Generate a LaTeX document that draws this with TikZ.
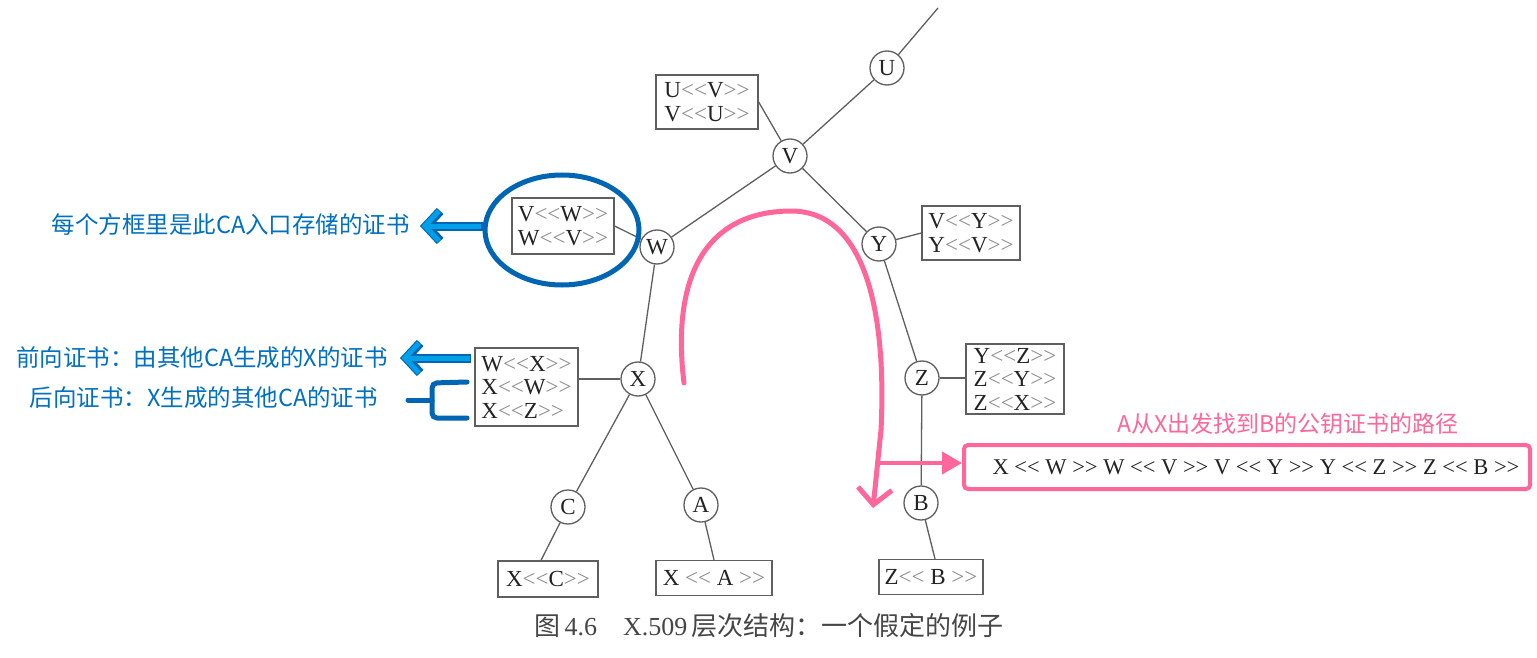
\documentclass[tikz,border=0pt]{standalone}
\usepackage{fontspec}
\setmainfont{Liberation Serif}[Ligatures=TeXOff]
\newfontfamily\cjk{Noto Sans CJK SC}[Ligatures=TeXOff]
\usetikzlibrary{arrows.meta,shapes.geometric}
\definecolor{treeg}{RGB}{95,95,95}
\definecolor{dk}{RGB}{35,35,35}
\definecolor{lg}{RGB}{140,140,140}
\definecolor{capg}{RGB}{70,70,70}
\definecolor{pinkc}{RGB}{255,102,153}
\definecolor{bluedk}{RGB}{0,102,180}
\definecolor{bluelt}{RGB}{0,160,233}
\definecolor{bluetxt}{RGB}{0,112,192}
\newcommand\cf[2]{\textcolor{dk}{#1}\textcolor{lg}{<<}\textcolor{dk}{#2}\textcolor{lg}{>>}}
\newcommand\myll{<<}
\newcommand\mygg{>>}
\begin{document}
\begin{tikzpicture}[x=1pt,y=-1pt,
  ca/.style={circle,draw=treeg,line width=1.3pt,minimum size=34pt,inner sep=0pt,font=\fontsize{23}{23}\selectfont,text=dk},
  certbox/.style={rectangle,draw=treeg,line width=1.3pt,inner sep=0pt,align=left,font=\fontsize{23}{23.5}\selectfont},
  tree/.style={draw=treeg,line width=1.3pt},
  note/.style={font=\cjk\fontsize{23.5}{23.5}\selectfont,text=bluetxt,inner sep=0pt},
  bluearrow/.style={line width=#1,-{Straight Barb[length=14pt,width=30pt,line width=#1]}}]
\useasboundingbox[fill=white] (0,0) rectangle (1537,658);
% CA nodes
\node[ca] (U) at (887,68) {U};
\node[ca] (V) at (790,156) {V};
\node[ca] (W) at (657,247) {W};
\node[ca] (Y) at (879,244) {Y};
\node[ca] (X) at (638,379) {X};
\node[ca] (Z) at (922,378) {Z};
\node[ca] (C) at (568,507) {C};
\node[ca] (A) at (701,505) {A};
\node[ca] (B) at (921,503) {B};
\coordinate (top) at (938,8);
% certificate boxes
\node[certbox,minimum width=102pt,minimum height=54pt] (uvb) at (707,102) {\cf{U}{V}\\\cf{V}{U}};
\node[certbox,minimum width=102pt,minimum height=56pt] (vwb) at (563,226) {\cf{V}{W}\\\cf{W}{V}};
\node[certbox,minimum width=98pt,minimum height=54pt] (vyb) at (971,233) {\cf{V}{Y}\\\cf{Y}{V}};
\node[certbox,minimum width=103pt,minimum height=78pt] (wxb) at (526.5,387) {\cf{W}{X}\\\cf{X}{W}\\\cf{X}{Z}};
\node[certbox,minimum width=98pt,minimum height=70pt] (yzb) at (1015,379) {\cf{Y}{Z}\\\cf{Z}{Y}\\\cf{Z}{X}};
\node[certbox,minimum width=100pt,minimum height=36pt] (xcb) at (548,579) {\cf{X}{C}};
\node[certbox,minimum width=116pt,minimum height=35pt] (xab) at (714,578) {\textcolor{dk}{X} \textcolor{lg}{\myll} \textcolor{dk}{A} \textcolor{lg}{\mygg}};
\node[certbox,minimum width=104pt,minimum height=35pt] (zbb) at (931,577) {\textcolor{dk}{Z}\textcolor{lg}{\myll} \textcolor{dk}{B} \textcolor{lg}{\mygg}};
% tree edges
\path[tree] (U) -- (top);
\path[tree] (V) -- (U);
\path[tree] (V) -- (W);
\path[tree] (V) -- (Y);
\path[tree] (uvb.east) -- (V);
\path[tree] (vwb.east) -- (W);
\path[tree] (Y) -- (vyb.west);
\path[tree] (W) -- (X);
\path[tree] (X) -- (X -| wxb.east);
\path[tree] (X) -- (C);
\path[tree] (X) -- (A);
\path[tree] (Y) -- (Z);
\path[tree] (Z) -- (Z -| yzb.west);
\path[tree] (Z) -- (B);
\path[tree] (C) -- ([xshift=-7pt]xcb.north);
\path[tree] (A) -- (xab.north);
\path[tree] (B) -- ([xshift=4pt]zbb.north);
% blue annotations
\node[ellipse,draw=bluedk,line width=5pt,minimum width=154pt,minimum height=110pt] (ell) at (562,230) {};
\coordinate (b1e) at (420,226);
\draw[bluedk,bluearrow=9pt] (ell.west |- b1e) -- (b1e);
\draw[bluelt,bluearrow=5pt] ([xshift=-2pt]ell.west |- b1e) -- ([xshift=1.5pt]b1e);
\node[note,anchor=east] (t1) at (410,225) {每个方框里是此CA入口存储的证书};
\coordinate (b2e) at (400,358);
\draw[bluedk,bluearrow=9pt] ([xshift=-3pt]b2e -| wxb.west) -- (b2e);
\draw[bluelt,bluearrow=5pt] ([xshift=-4pt]b2e -| wxb.west) -- ([xshift=1.5pt]b2e);
\node[note,anchor=east] (t2) at (388,358) {前向证书：由其他CA生成的X的证书};
\node[note,anchor=east] (t3) at (378,398) {后向证书：X生成的其他CA的证书};
\draw[bluedk,line width=5pt,line cap=round,rounded corners=5pt] (467,382) -- (432,383) -- (432,418) -- (467,418);
\draw[bluedk,line width=5pt,line cap=round] (408,400) -- (432,400);
% pink path
\node[draw=pinkc,line width=4pt,rounded corners=4pt,minimum width=566pt,minimum height=44pt,inner sep=0pt,font=\fontsize{22.5}{22.5}\selectfont,text=dk] (pathb) at (1247,467)
  {\hspace*{18pt}X \myll{} W \mygg{} W \myll{} V \mygg{} V \myll{} Y \mygg{} Y \myll{} Z \mygg{} Z \myll{} B \mygg};
\node[font=\cjk\fontsize{23}{23}\selectfont,text=pinkc,inner sep=0pt] (ptitle) at (1288,424) {A从X出发找到B的公钥证书的路径};
\coordinate (pa) at (880,463);
\draw[pinkc,line width=4pt,-{Triangle[length=20pt,width=22pt]}] (pa) -- (pa -| pathb.west);
\coordinate (cs) at (684,383);
\coordinate (ce) at (873,508);
\draw[pinkc,line width=5pt,line cap=round,-{Straight Barb[length=16pt,width=34pt,line width=5pt]}]
  (cs) .. controls (672,285) and (700,212) .. (790,211) .. controls (872,210) and (886,330) .. (881,430) -- (ce);
% caption
\node[font=\fontsize{26}{26}\selectfont,text=capg,inner sep=0pt] (cap) at (769,626)
  {{\cjk 图}\,4.6\hspace{1em}X.509\,{\cjk 层次结构：一个假定的例子}};
\end{tikzpicture}
\end{document}
